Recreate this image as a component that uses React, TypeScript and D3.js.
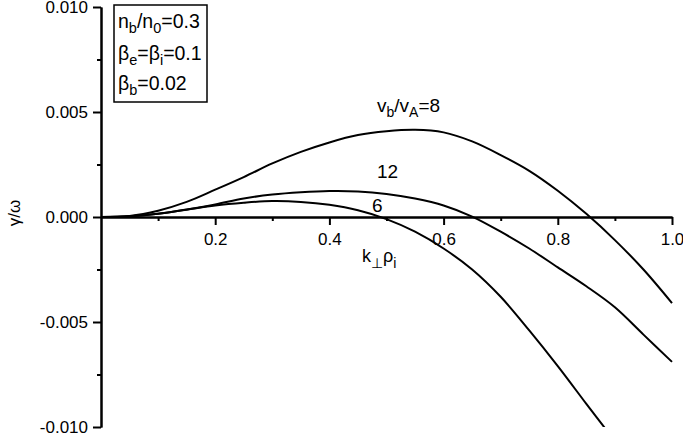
import React, { useEffect, useRef } from 'react';
import * as d3 from 'd3';

// k_perp * rho_i values
const kValues = [0, 0.05, 0.1, 0.15, 0.2, 0.25, 0.3, 0.35, 0.4, 0.45, 0.5, 0.55, 0.6, 0.65, 0.7, 0.75, 0.8, 0.85, 0.9, 0.95, 1.0];

// growth rate gamma/omega for each v_b/v_A
const gamma8 = [0, 0.00005, 0.0003, 0.00072, 0.0013, 0.0019, 0.00255, 0.0031, 0.00355, 0.0039, 0.00408, 0.00415, 0.00403, 0.0036, 0.00295, 0.0022, 0.00125, 0.00015, -0.0011, -0.0025, -0.0041];
const gamma12 = [0, 0.00003, 0.00015, 0.00036, 0.0006, 0.00088, 0.00107, 0.00118, 0.00124, 0.00122, 0.0011, 0.00088, 0.00055, 0.00002, -0.0007, -0.0015, -0.0024, -0.0033, -0.0043, -0.0056, -0.0069];
const gamma6 = [0, 0.00003, 0.00015, 0.00035, 0.00055, 0.00068, 0.00076, 0.00072, 0.00058, 0.00032, -0.0001, -0.0007, -0.0015, -0.0025, -0.0038, -0.0054, -0.0071, -0.0089, -0.0107, -0.0128, -0.015];

const xMajor = [0.2, 0.4, 0.6, 0.8, 1.0];
const xMinor = [0.1, 0.3, 0.5, 0.7, 0.9];
const yMajor = [-0.01, -0.005, 0, 0.005, 0.01];
const yMinor = [-0.0075, -0.0025, 0.0025, 0.0075];

const FONT = '"Liberation Sans", Arial, sans-serif';

export default function App() {
  const xAxisRef = useRef<SVGGElement>(null);
  const xMinorRef = useRef<SVGGElement>(null);
  const yAxisRef = useRef<SVGGElement>(null);
  const yMinorRef = useRef<SVGGElement>(null);

  const x = d3.scaleLinear().domain([0, 1]).range([101, 672]);
  const y = d3.scaleLinear().domain([-0.01, 0.01]).range([427, 7]);

  const line = d3.line<number>()
    .x((d, i) => x(kValues[i]))
    .y(d => y(d))
    .curve(d3.curveCatmullRom.alpha(0.5));

  useEffect(() => {
    const xa = d3.select(xAxisRef.current!);
    xa.call(d3.axisBottom(x).tickValues(xMajor).tickSize(8).tickSizeOuter(0).tickPadding(8)
      .tickFormat(d => (+d).toFixed(1)));
    d3.select(xMinorRef.current!).call(d3.axisBottom(x).tickValues(xMinor).tickSize(4).tickSizeOuter(0).tickFormat(() => ''));
    const ya = d3.select(yAxisRef.current!);
    ya.call(d3.axisLeft(y).tickValues(yMajor).tickSize(8).tickSizeOuter(0).tickPadding(5)
      .tickFormat(d => (+d).toFixed(3)));
    d3.select(yMinorRef.current!).call(d3.axisLeft(y).tickValues(yMinor).tickSize(4).tickSizeOuter(0).tickFormat(() => ''));

    [xa, ya].forEach(a => {
      a.selectAll('text').attr('font-family', FONT).attr('font-size', 17).attr('fill', '#000');
    });
    [xAxisRef, xMinorRef, yAxisRef, yMinorRef].forEach(r => {
      const g = d3.select(r.current!);
      g.selectAll('line').attr('stroke', '#000').attr('stroke-width', 2);
      g.select('.domain').attr('stroke', '#000').attr('stroke-width', 2);
    });
  }, []);

  const sub = { fontSize: 14.5 } as const;
  const subL = { fontSize: 14 } as const;

  return (
    <svg width={683} height={433} style={{ position: 'absolute', left: 0, top: 0, background: '#fff' }}
      fontFamily={FONT}>
      <defs>
        <clipPath id="plot">
          <rect x={x(0)} y={y(0.01)} width={x(1) - x(0) + 2} height={y(-0.01) - y(0.01)} />
        </clipPath>
      </defs>

      <g ref={xMinorRef} transform={`translate(0,${y(0)})`} />
      <g ref={xAxisRef} transform={`translate(0,${y(0)})`} />
      <g ref={yMinorRef} transform={`translate(${x(0)},0)`} />
      <g ref={yAxisRef} transform={`translate(${x(0)},0)`} />

      <g clipPath="url(#plot)" fill="none" stroke="#000" strokeWidth={2}>
        <path d={line(gamma8) || ''} />
        <path d={line(gamma12) || ''} />
        <path d={line(gamma6) || ''} />
      </g>

      {/* legend box */}
      <rect x={114} y={5} width={93} height={97} fill="none" stroke="#000" strokeWidth={1.5} />
      <text x={118} y={28} fontSize={19.5}>
        n<tspan dy={5} style={sub}>b</tspan><tspan dy={-5}>/n</tspan><tspan dy={5} style={sub}>0</tspan><tspan dy={-5}>=0.3</tspan>
      </text>
      <text x={118} y={60} fontSize={19.5}>
        β<tspan dy={5} style={sub}>e</tspan><tspan dy={-5}>=β</tspan><tspan dy={5} style={sub}>i</tspan><tspan dy={-5}>=0.1</tspan>
      </text>
      <text x={118} y={90} fontSize={19.5}>
        β<tspan dy={5} style={sub}>b</tspan><tspan dy={-5}>=0.02</tspan>
      </text>

      {/* curve labels */}
      <text x={377} y={112} fontSize={19}>
        v<tspan dy={5} style={subL}>b</tspan><tspan dy={-5}>/v</tspan><tspan dy={5} style={subL}>A</tspan><tspan dy={-5}>=8</tspan>
      </text>
      <text x={377} y={178} fontSize={19}>12</text>
      <text x={372} y={212} fontSize={19}>6</text>

      {/* axis titles */}
      <text x={362} y={262} fontSize={18}>
        k<tspan dy={6} style={subL}>⊥</tspan><tspan dy={-6}>ρ</tspan><tspan dy={6} style={subL}>i</tspan>
      </text>
      <text transform="translate(20,213) rotate(-90)" textAnchor="middle" fontSize={17}>γ/ω</text>
    </svg>
  );
}
